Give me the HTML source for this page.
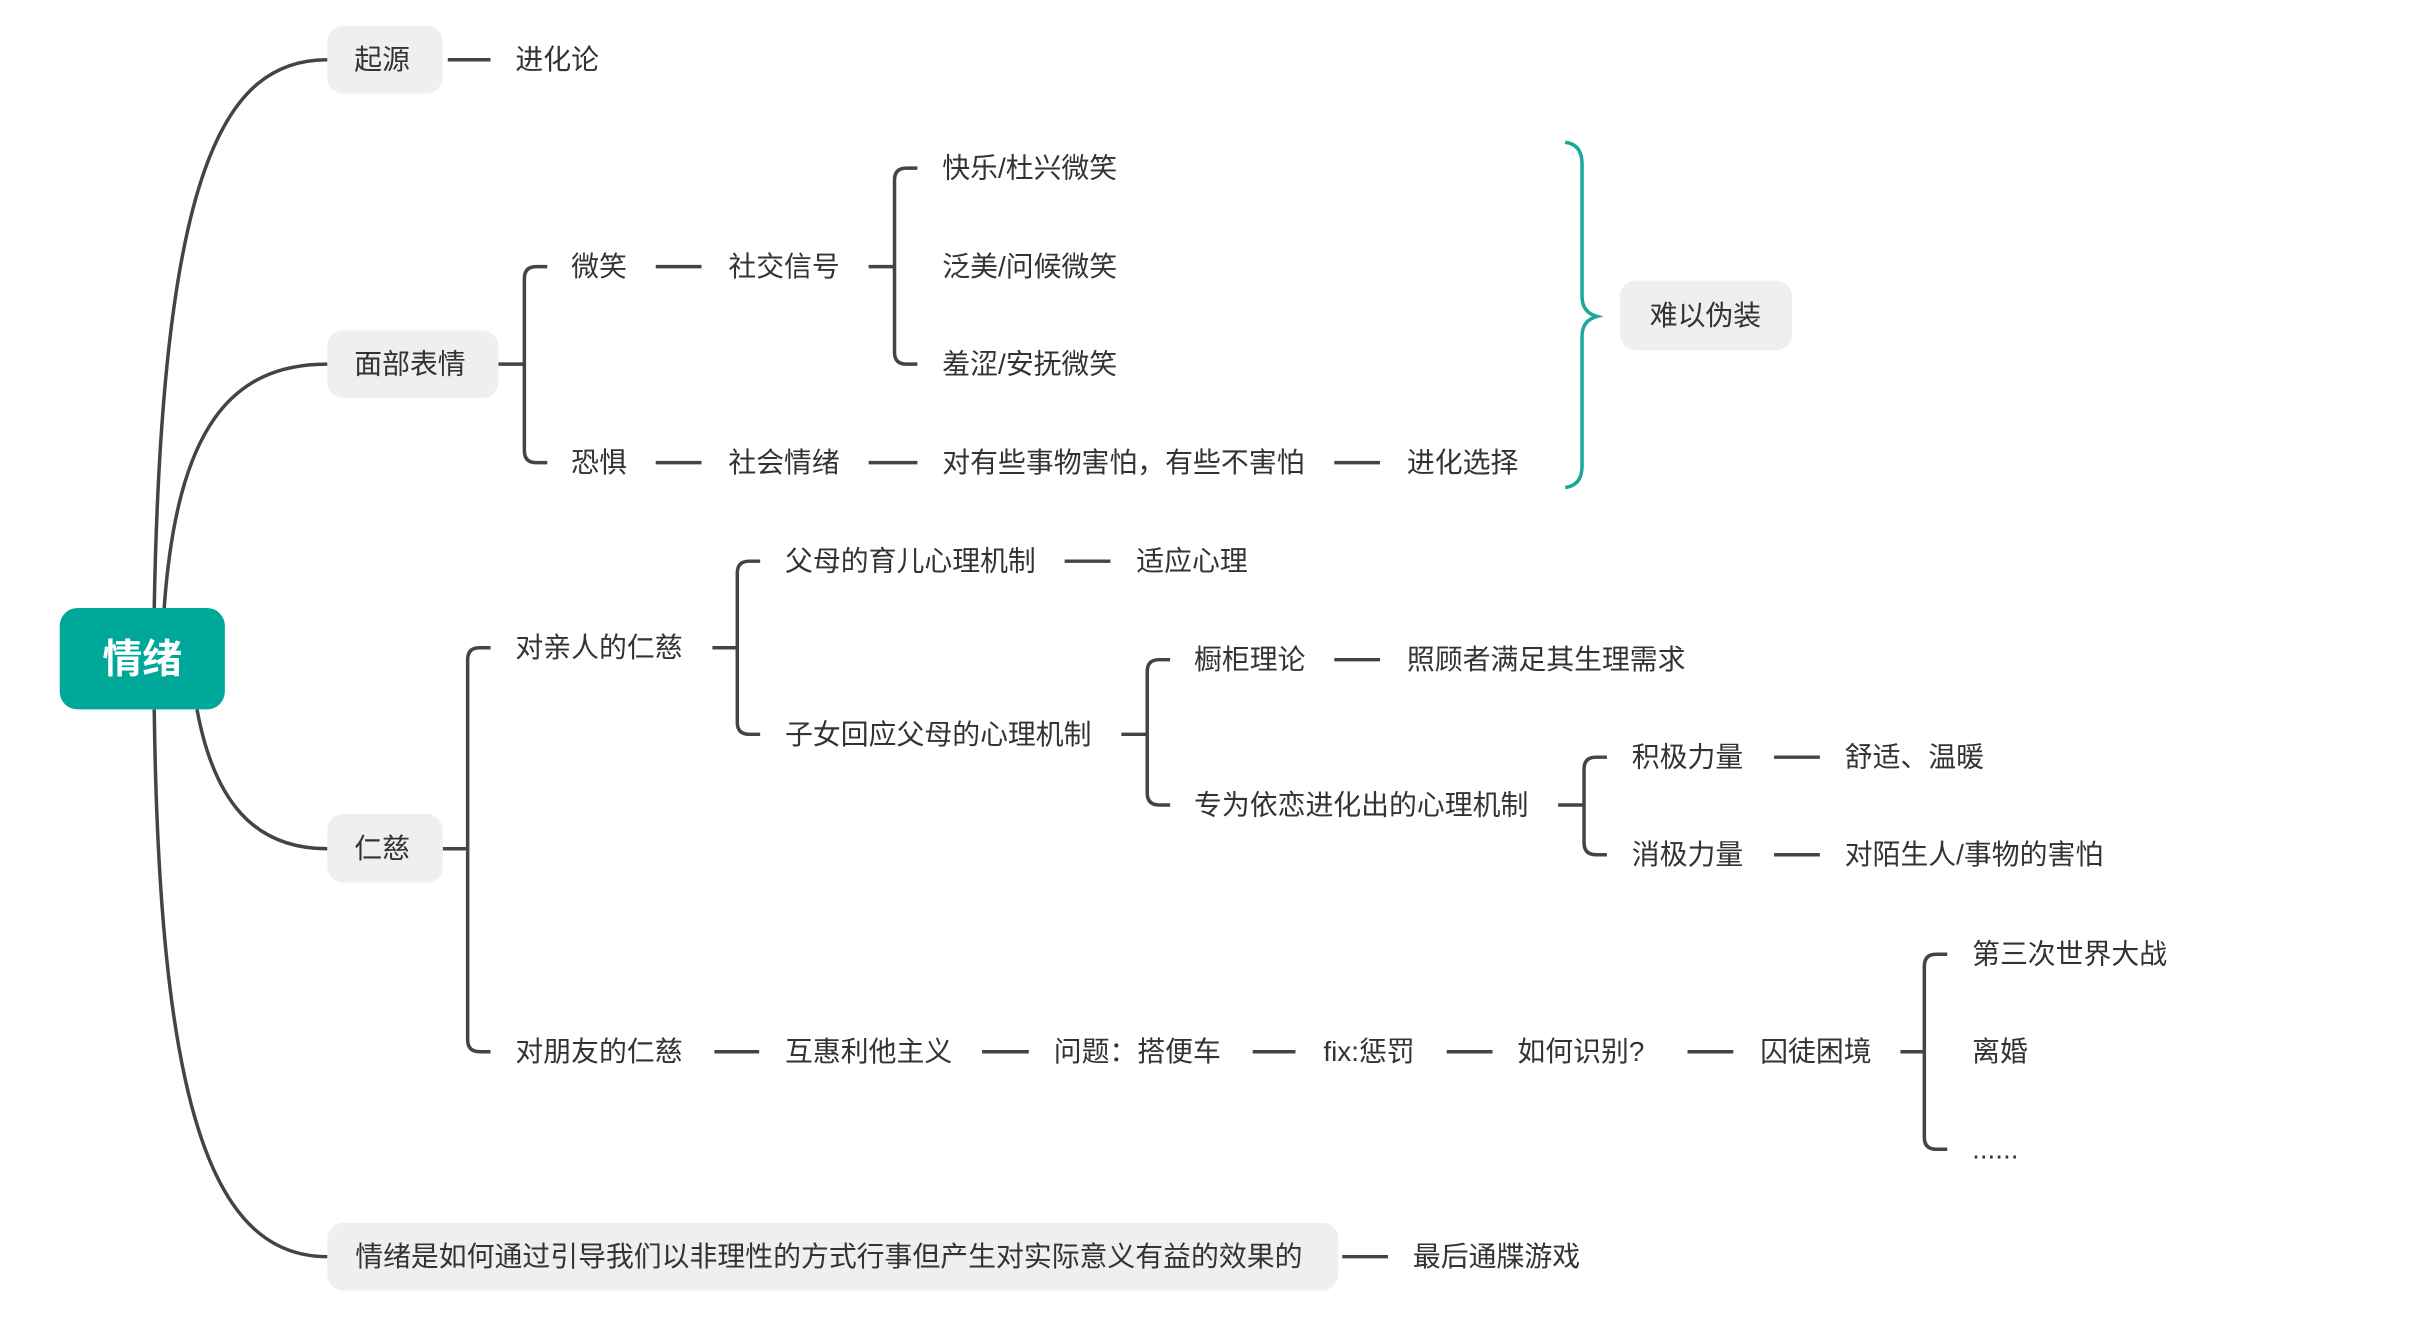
<!DOCTYPE html>
<html><head><meta charset="utf-8"><style>
html,body{margin:0;padding:0;background:#fff;}
svg{display:block;}
text{font-family:"Liberation Sans","Noto Sans CJK SC",sans-serif;font-size:28px;fill:#333;dominant-baseline:central;}
</style></head><body>
<svg width="2416" height="1333" viewBox="0 0 2416 1333" xmlns="http://www.w3.org/2000/svg">
<g transform="scale(0.995)">
<g fill="none" stroke="#444" stroke-width="3.5" stroke-linecap="butt">
<path d="M155 611 C163 170 225 60 329 60"/>
<path d="M165 611 C178 430 232 366 329 366"/>
<path d="M198 713 C215 805 255 853 329 853"/>
<path d="M155 713 C160 1110 212 1263 329 1263"/>
<path d="M450 60H493"/>
<path d="M659 268H705"/><path d="M659 465H705"/>
<path d="M873 465H922"/><path d="M1341 465H1387"/>
<path d="M1070 564H1116"/><path d="M1341 663H1387"/>
<path d="M1783 761H1829"/><path d="M1783 859H1829"/>
<path d="M718 1057H763"/><path d="M987 1057H1034"/><path d="M1259 1057H1302"/><path d="M1454 1057H1500"/><path d="M1696 1057H1742"/>
<path d="M1349 1263H1395"/>
<path d="M501 366H527"/><path d="M873 268H899"/><path d="M716 651H741"/><path d="M1127 738H1153"/><path d="M1566 809H1592"/><path d="M445 853H470"/><path d="M1910 1057H1934"/>
<path d="M550 268H539Q527 268 527 280V453Q527 465 539 465H550"/>
<path d="M922 169H911Q899 169 899 181V354Q899 366 911 366H922"/>
<path d="M764 564H753Q741 564 741 576V726Q741 738 753 738H764"/>
<path d="M1176 663H1165Q1153 663 1153 675V797Q1153 809 1165 809H1176"/>
<path d="M1615 761H1604Q1592 761 1592 773V847Q1592 859 1604 859H1615"/>
<path d="M493 651H482Q470 651 470 663V1045Q470 1057 482 1057H493"/>
<path d="M1957 959H1946Q1934 959 1934 971V1143Q1934 1155 1946 1155H1957"/>
</g>
<path d="M1573 143Q1590 145 1590 165V298Q1590 314 1605 318Q1590 322 1590 338V468Q1590 488 1573 490" fill="none" stroke="#1aa89a" stroke-width="3.5"/>
<rect x="60" y="611" width="166" height="102" rx="18" fill="#00a89a"/>
<text x="143" y="663" text-anchor="middle" style="fill:#fff;font-size:40px;font-weight:bold">情绪</text>
<g fill="#efefef">
<rect x="329" y="26" width="116" height="68" rx="16"/>
<rect x="329" y="332" width="172" height="68" rx="16"/>
<rect x="329" y="818" width="116" height="69" rx="16"/>
<rect x="329" y="1229" width="1016" height="68" rx="16"/>
<rect x="1628" y="282" width="173" height="70" rx="16"/>
</g>
<text x="356" y="60">起源</text>
<text x="518" y="60">进化论</text>
<text x="356" y="366">面部表情</text>
<text x="574" y="268">微笑</text>
<text x="732" y="268">社交信号</text>
<text x="947" y="169">快乐/杜兴微笑</text>
<text x="947" y="268">泛美/问候微笑</text>
<text x="947" y="366">羞涩/安抚微笑</text>
<text x="574" y="465">恐惧</text>
<text x="732" y="465">社会情绪</text>
<text x="947" y="465">对有些事物害怕，有些不害怕</text>
<text x="1414" y="465">进化选择</text>
<text x="1714" y="317" text-anchor="middle">难以伪装</text>
<text x="356" y="853">仁慈</text>
<text x="518" y="651">对亲人的仁慈</text>
<text x="789" y="564">父母的育儿心理机制</text>
<text x="1142" y="564">适应心理</text>
<text x="789" y="738">子女回应父母的心理机制</text>
<text x="1200" y="663">橱柜理论</text>
<text x="1414" y="663">照顾者满足其生理需求</text>
<text x="1200" y="809">专为依恋进化出的心理机制</text>
<text x="1640" y="761">积极力量</text>
<text x="1854" y="761">舒适、温暖</text>
<text x="1640" y="859">消极力量</text>
<text x="1854" y="859">对陌生人/事物的害怕</text>
<text x="518" y="1057">对朋友的仁慈</text>
<text x="789" y="1057">互惠利他主义</text>
<text x="1059" y="1057">问题：搭便车</text>
<text x="1330" y="1057">fix:惩罚</text>
<text x="1525" y="1057">如何识别?</text>
<text x="1769" y="1057">囚徒困境</text>
<text x="1982" y="959">第三次世界大战</text>
<text x="1982" y="1057">离婚</text>
<text x="1982" y="1155">......</text>
<text x="357" y="1263">情绪是如何通过引导我们以非理性的方式行事但产生对实际意义有益的效果的</text>
<text x="1420" y="1263">最后通牒游戏</text>
</g>
</svg>
</body></html>
